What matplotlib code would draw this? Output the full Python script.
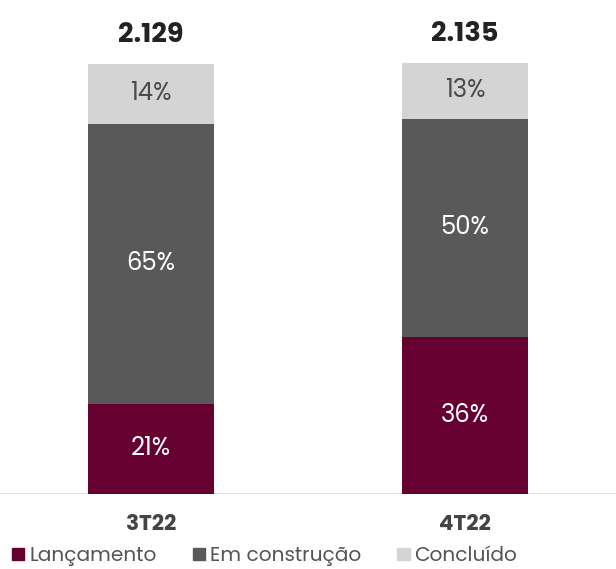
import numpy as np
import matplotlib
matplotlib.use("Agg")
from matplotlib import pyplot as plt
from matplotlib.patches import Patch

plt.rcParams['font.family'] = ['Poppins', 'Open Sans', 'DejaVu Sans']

# dados
periodos = ["3T22", "4T22"]
totais = [2129, 2135]
totais_txt = ["2.129", "2.135"]
series = ["Lançamento", "Em construção", "Concluído"]
lancamento = [21, 36]
em_construcao = [65, 50]
concluido = [14, 13]
cores = ["#650030", "#595959", "#d4d4d4"]
cor_txt = ["white", "white", "#4a4a4a"]

pcts = np.array([lancamento, em_construcao, concluido], dtype=float)
# altura de cada parte proporcional ao total do período
valores = pcts / pcts.sum(axis=0) * np.array(totais)

fig = plt.figure(figsize=(6.16, 5.69), dpi=100)
ax = fig.add_axes([0, 75 / 569, 1, 494 / 569])

x = np.arange(len(periodos))
base = np.zeros(len(periodos))
for i, nome in enumerate(series):
    bars = ax.bar(x, valores[i], 0.401, bottom=base, color=cores[i], label=nome)
    for j, b in enumerate(bars):
        ax.text(b.get_x() + b.get_width() / 2, base[j] + valores[i][j] / 2,
                f"{int(pcts[i][j])}%", ha="center", va="center",
                color=cor_txt[i], fontsize=17.5)
    base += valores[i]

for j in range(len(periodos)):
    ax.text(x[j], base[j] + 75, totais_txt[j], ha="center", va="bottom",
            fontsize=19.5, fontweight="bold", color="#222222")

ax.set_xlim(-0.481, 1.481)
ax.set_ylim(0, 2446)
ax.axis("off")
ax.axhline(0, color="#d9d9d9", lw=2, zorder=0)

for j, p in enumerate(periodos):
    ax.text(x[j], -0.063, p, transform=ax.get_xaxis_transform(), ha="center",
            va="center", fontsize=15.5, fontweight="bold", color="#444444")

handles = [Patch(color=c, label=s) for c, s in zip(cores, series)]
fig.legend(handles=handles, loc="lower left", bbox_to_anchor=(0.0, -0.016),
           ncol=3, frameon=False, fontsize=14.5, handlelength=0.6,
           handleheight=0.6, handletextpad=0.25, columnspacing=1.8,
           labelcolor="#555555", borderaxespad=0.2)

fig.savefig("out.png", dpi=100)
